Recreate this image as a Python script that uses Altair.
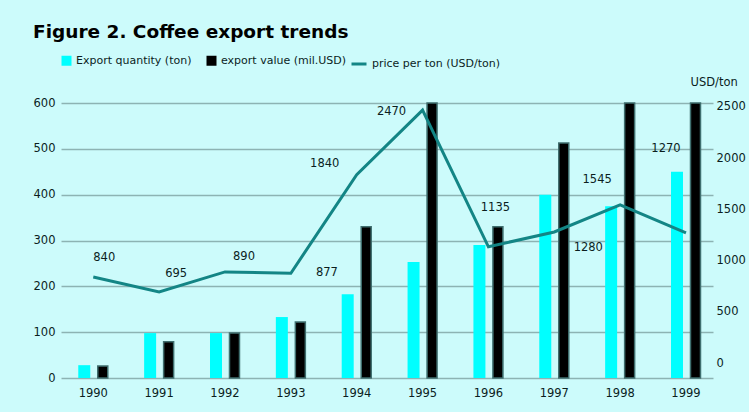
import altair as alt
import pandas as pd

years = ["1990", "1991", "1992", "1993", "1994", "1995", "1996", "1997", "1998", "1999"]
export_quantity = [28, 98, 98, 133, 183, 253, 290, 400, 375, 450]
export_value = [26, 79, 98, 122, 330, 600, 330, 513, 600, 600]
price_per_ton = [840, 695, 890, 877, 1840, 2470, 1135, 1280, 1545, 1270]
price_labels = [str(v) for v in price_per_ton]

q_name = "Export quantity (ton)"
v_name = "export value (mil.USD)"
p_name = "price per ton (USD/ton)"

# label placement offsets (pixels) for the price data labels
label_dx = [11, 17, 19, 36, -32, -31, 7, 34, -23, -20]
label_dy = [-19, -18, -15, 0, -11, 2, -39, 16, -25, -84]

bars = pd.DataFrame({
    "year": years * 2,
    "series": [q_name] * len(years) + [v_name] * len(years),
    "value": export_quantity + export_value,
})
line = pd.DataFrame({"year": years, "series": [p_name] * len(years),
                     "price": price_per_ton, "label": price_labels})

FONT = "DejaVu Sans"
TXT = "#0b1e1e"
GRID = "#8db3b3"

x_enc = alt.X("year:O", scale=alt.Scale(type="band", paddingInner=0.5, paddingOuter=0.2, align=0.6),
              axis=alt.Axis(title=None, labelAngle=0, ticks=False, domain=False, grid=False,
                            labelPadding=9, labelFontSize=11.5, labelFont=FONT, labelColor=TXT))

y_left = alt.Y("value:Q", scale=alt.Scale(domain=[0, 600], nice=False),
               axis=alt.Axis(title=None, values=[0, 100, 200, 300, 400, 500, 600], ticks=False,
                             domain=False, grid=True, gridColor=GRID, gridWidth=1.5, format="d",
                             labelPadding=6, labelFontSize=11.5, labelFont=FONT, labelColor=TXT))

y_right = alt.Y("price:Q", scale=alt.Scale(domain=[-146, 2539], nice=False, zero=False),
                axis=alt.Axis(orient="right", values=[0, 500, 1000, 1500, 2000, 2500], grid=False,
                              ticks=False, domain=False, labelPadding=3, labelFontSize=11.5,
                              labelFont=FONT, labelColor=TXT, format="d",
                              title="USD/ton", titleAngle=0, titleX=-23, titleY=-21,
                              titleAlign="left", titleBaseline="middle", titleFontSize=11.5,
                              titleFont=FONT, titleFontWeight="normal", titleColor=TXT))

color_enc = alt.Color("series:N",
                      scale=alt.Scale(domain=[q_name, v_name], range=["#00FFFF", "#000000"]),
                      legend=alt.Legend(orient="none", direction="horizontal", legendX=0, legendY=-48,
                                        title=None, symbolType="square", symbolSize=100,
                                        symbolStrokeWidth=0, labelFontSize=11, labelFont=FONT,
                                        labelColor=TXT, labelOffset=4, columnPadding=14, padding=0))

base_bars = alt.Chart(bars)
cyan = base_bars.transform_filter(alt.datum.series == q_name).mark_bar(
    size=12, xOffset=-9).encode(x=x_enc, y=y_left, color=color_enc)
black = base_bars.transform_filter(alt.datum.series == v_name).mark_bar(
    size=10, xOffset=9.5, stroke="#3f6f6f", strokeWidth=1.5).encode(x=x_enc, y=y_left, color=color_enc)

line_layer = alt.Chart(line).mark_line(strokeWidth=3).encode(
    x=x_enc, y=y_right,
    stroke=alt.Stroke("series:N", scale=alt.Scale(domain=[p_name], range=["#138585"]),
                      legend=alt.Legend(orient="none", direction="horizontal", legendX=289, legendY=-48,
                                        title=None, symbolType="stroke", symbolSize=225,
                                        symbolStrokeWidth=3, labelFontSize=11, labelFont=FONT,
                                        labelColor=TXT, labelOffset=4, padding=0)))

texts = []
for yr, dx, dy in zip(years, label_dx, label_dy):
    texts.append(
        alt.Chart(line).transform_filter(alt.datum.year == yr).mark_text(
            dx=dx, dy=dy, font=FONT, fontSize=11.5, color=TXT, align="center", baseline="middle"
        ).encode(x=x_enc, y=y_right, text="label:N")
    )

left = alt.layer(cyan, black)
right = alt.layer(line_layer, *texts)

chart = alt.layer(left, right).resolve_scale(y="independent").properties(
    width=652, height=275,
    padding={"left": 61, "top": 103, "right": 36, "bottom": 34},
    autosize=alt.AutoSizeParams(type="none"),
    background="#CCFBFB",
    title=alt.TitleParams("Figure 2. Coffee export trends", anchor="start", frame="group", dx=-28,
                          font=FONT, fontSize=18.5, fontWeight="bold", color="#000000", offset=14),
).configure_view(stroke=None)

chart.save("out.html", embed_options={"renderer": "svg", "actions": False})
